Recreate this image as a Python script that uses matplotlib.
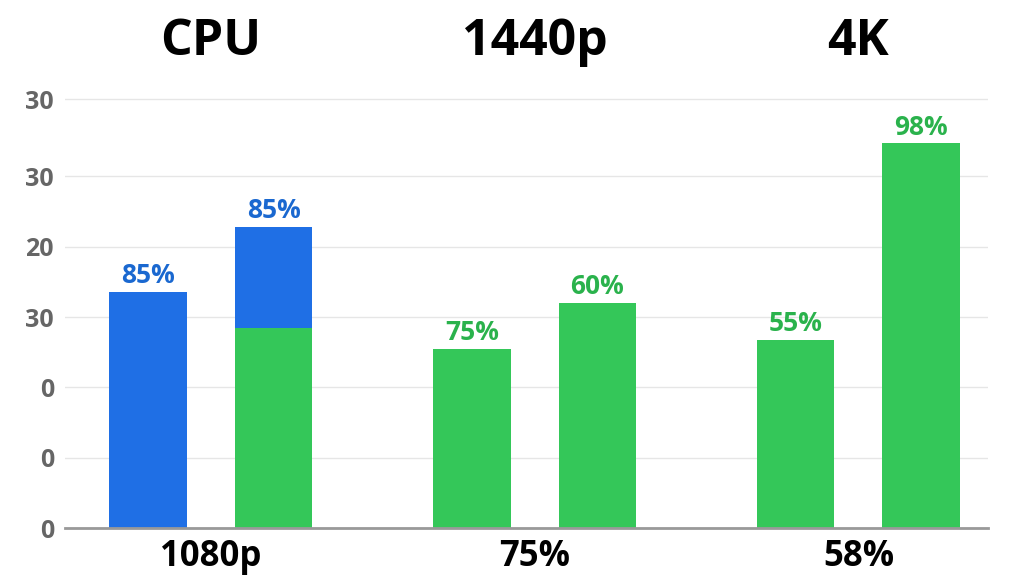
import matplotlib.pyplot as plt
import numpy as np

plt.rcParams['font.family'] = ['Open Sans', 'DejaVu Sans']

groups = ['CPU', '1440p', '4K']
bottom_labels = ['1080p', '75%', '58%']
# each group: two bars (left, right); green heights, blue stacked on top
green_vals = [[0.0, 2.85], [2.55, 3.2], [2.67, 5.47]]
blue_vals = [[3.36, 1.43], [0.0, 0.0], [0.0, 0.0]]
bar_labels = [['85%', '85%'], ['75%', '60%'], ['55%', '98%']]
label_colors = [['blue', 'blue'], ['green', 'green'], ['green', 'green']]
ytick_labels = ['0', '0', '0', '30', '20', '30', '30']

GREEN = '#34c759'
BLUE = '#1f6fe5'
cmap = {'green': '#2ab24c', 'blue': '#1a68d0'}

fig = plt.figure(figsize=(10.24, 5.85), dpi=100)
ax = fig.add_axes([65/1024, 1-528/585, (988-65)/1024, (528-85)/585])

offs = [-0.194, 0.194]
w = 0.24
for g in range(3):
    for j in range(2):
        x = g + offs[j]
        gv, bv = green_vals[g][j], blue_vals[g][j]
        if gv > 0:
            ax.bar(x, gv, w, color=GREEN, zorder=2)
        if bv > 0:
            ax.bar(x, bv, w, bottom=gv, color=BLUE, zorder=2)
        ax.text(x, gv + bv + 0.04, bar_labels[g][j], ha='center', va='bottom',
                fontsize=19, fontweight='bold', color=cmap[label_colors[g][j]])
    ax.text(g, 1.04, groups[g], transform=ax.get_xaxis_transform(), ha='center',
            va='bottom', fontsize=36, fontweight='bold')
    ax.text(g, -0.025, bottom_labels[g], transform=ax.get_xaxis_transform(), ha='center',
            va='top', fontsize=25, fontweight='bold')

ax.set_xlim(-0.45, 2.4)
ax.set_ylim(0, 6.3)
ax.set_yticks([0, 1, 2, 3, 4, 5, 6.1])
ax.set_yticklabels(ytick_labels, fontsize=18, fontweight='bold', color='#666666')
ax.set_xticks([])
ax.tick_params(axis='y', length=0, pad=8)
ax.grid(axis='y', color='#e6e6e6', lw=1, zorder=0)
for s in ['top', 'right', 'left']:
    ax.spines[s].set_visible(False)
ax.spines['bottom'].set_color('#999999')
ax.spines['bottom'].set_linewidth(2)

fig.savefig('out.png', dpi=100)
